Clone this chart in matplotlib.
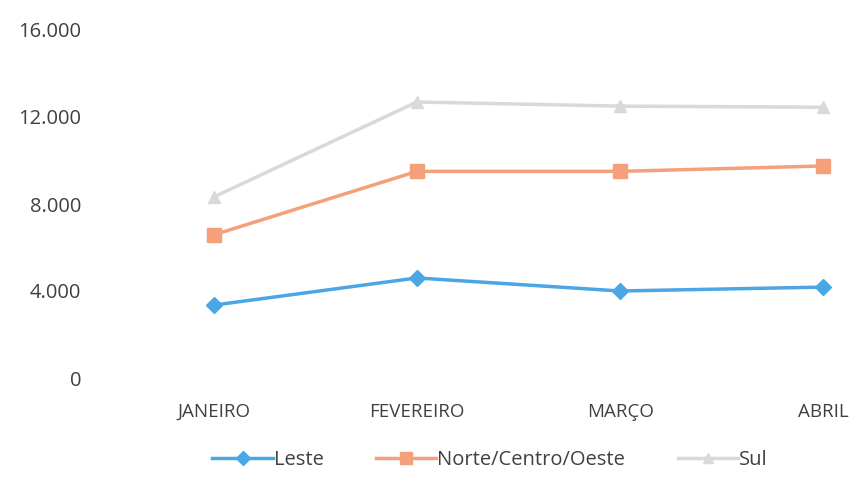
import matplotlib.pyplot as plt
from matplotlib.ticker import FuncFormatter

# Chart data
months = ["JANEIRO", "FEVEREIRO", "MARÇO", "ABRIL"]
leste = [3350, 4600, 4000, 4180]
norte_centro_oeste = [6580, 9500, 9500, 9750]
sul = [8320, 12690, 12500, 12450]
y_ticks = [0, 4000, 8000, 12000, 16000]

plt.rcParams["font.family"] = ["Open Sans", "DejaVu Sans"]

fig = plt.figure(figsize=(8.59, 4.91), dpi=100)
# plot area extends past the right edge (the reference is cropped)
ax = fig.add_axes([112 / 859, (491 - 378) / 491, 813 / 859, 348 / 491])

x = list(range(len(months)))
ax.plot(x, leste, color="#4BA6E6", lw=2.5, marker="D", ms=8, label="Leste")
ax.plot(x, norte_centro_oeste, color="#F4A07A", lw=2.5, marker="s", ms=10,
        label="Norte/Centro/Oeste")
ax.plot(x, sul, color="#D9D9D9", lw=2.5, marker="^", ms=9, label="Sul")

ax.set_xlim(-0.5, len(months) - 0.5)
ax.set_ylim(0, 16000)
ax.set_yticks(y_ticks)
ax.yaxis.set_major_formatter(FuncFormatter(lambda v, p: f"{int(v):,}".replace(",", ".")))
ax.set_xticks(x)
ax.set_xticklabels(months)

for s in ax.spines.values():
    s.set_visible(False)
ax.tick_params(axis="both", length=0, colors="#404040")
ax.tick_params(axis="x", pad=18, labelsize=13.5)
ax.tick_params(axis="y", pad=22, labelsize=14.5)

fig.legend(loc="center", bbox_to_anchor=(490 / 859, 1 - 460 / 491), ncol=3,
           frameon=False, fontsize=14.5, handlelength=3.0, columnspacing=2.6,
           handletextpad=0.05, labelcolor="#404040", markerscale=0.85)

fig.savefig("out.png", dpi=100)
